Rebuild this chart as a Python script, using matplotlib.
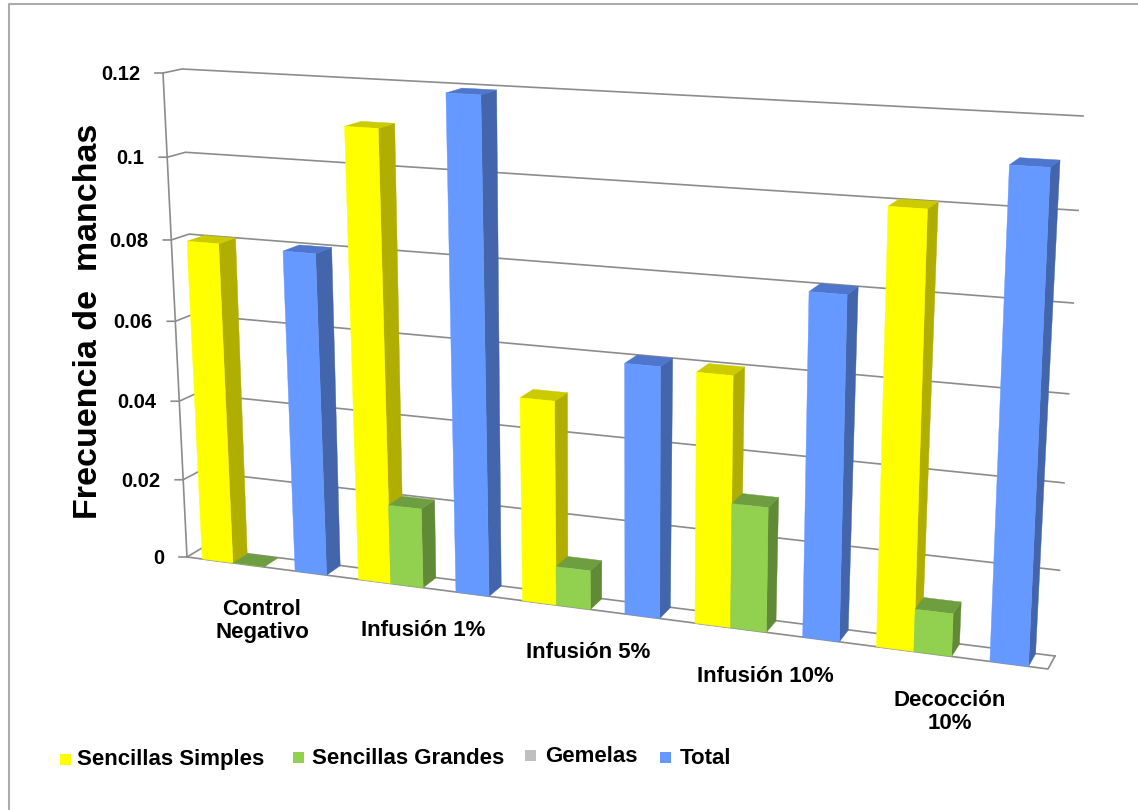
import numpy as np
import matplotlib
matplotlib.use('Agg')
import matplotlib.pyplot as plt
from matplotlib.patches import Polygon, Rectangle

plt.rcParams['font.family'] = ['Liberation Sans', 'DejaVu Sans']

categories = ['Control\nNegativo', 'Infusión 1%', 'Infusión 5%', 'Infusión 10%', 'Decocción\n10%']
simples = [0.080, 0.110, 0.0495, 0.0595, 0.100]
grandes = [0.000, 0.0197, 0.0095, 0.0297, 0.010]
gemelas = [None, None, None, None, None]
total = [0.0795, 0.119, 0.060, 0.080, 0.1105]
y_ticks = [0, 0.02, 0.04, 0.06, 0.08, 0.1, 0.12]
y_tick_labels = ['0', '0.02', '0.04', '0.06', '0.08', '0.1', '0.12']
series_names = ['Sencillas Simples', 'Sencillas Grandes', 'Gemelas', 'Total']

Y_MAX = 0.12
N_SLOTS = 5  # 4 series + gap

# corners in pixels: bottom left, bottom right, top right, top left
front_corners = [(187, 557), (1048, 669), (1073, 123), (163, 73)]
back_corners = [(202, 548), (1055, 656), (1083, 116), (182, 69)]

# front, side, top colours
colors = [('#FFFF00', '#B0AE00', '#CCCA00'),
          ('#92D050', '#618A36', '#6F9E40'),
          ('#BFBFBF', '#808080', '#999999'),
          ('#6699FF', '#4265AB', '#4D76CC')]
GRID = '#8C8C8C'


def homography(corners):
    src = [(0, 0), (1, 0), (1, 1), (0, 1)]
    a, b = [], []
    for (u, v), (x, y) in zip(src, corners):
        a.append([u, v, 1, 0, 0, 0, -u * x, -v * x])
        a.append([0, 0, 0, u, v, 1, -u * y, -v * y])
        b += [x, y]
    return np.append(np.linalg.solve(np.array(a, float), np.array(b, float)), 1).reshape(3, 3)


H_front = homography(front_corners)
H_back = homography(back_corners)


def apply_h(H, u, h):
    p = H @ np.array([u, h, 1.0])
    return p[:2] / p[2]


def project(u, value, depth):
    h = value / Y_MAX
    return (1 - depth) * apply_h(H_front, u, h) + depth * apply_h(H_back, u, h)


fig = plt.figure(figsize=(11.38, 8.10), dpi=100)
ax = fig.add_axes([0, 0, 1, 1])
ax.set_xlim(0, 1138)
ax.set_ylim(810, 0)
ax.axis('off')

# picture frame
ax.plot([9, 9, 1138], [810, 4, 4], color='#ABABAB', lw=1.5)

# walls and gridlines
for tick, label in zip(y_ticks, y_tick_labels):
    f = project(0, tick, 0)
    b = project(0, tick, 1)
    r = project(1, tick, 1)
    ax.plot([f[0] - 8, f[0], b[0], r[0]], [f[1], f[1], b[1], r[1]], color=GRID, lw=1.2, zorder=1)
    ax.text(f[0] - 23, f[1] + 1.5, label, ha='right', va='center', fontsize=14.5, fontweight='bold')

ft, fb = project(0, Y_MAX, 0), project(0, 0, 0)
ax.plot([ft[0], fb[0]], [ft[1], fb[1]], color=GRID, lw=1.2, zorder=1)
floor = [project(0, 0, 0), project(1, 0, 0), project(1, 0, 1)]
ax.plot([p[0] for p in floor], [p[1] for p in floor], color=GRID, lw=1.2, zorder=1)

# bars, left to right so each one covers the side of the previous
n_cat = len(categories)
all_series = [simples, grandes, gemelas, total]
z = 2
for c in range(n_cat):
    for s, values in enumerate(all_series):
        v = values[c]
        if v is None:
            continue
        u0 = (c * N_SLOTS + 0.5 + s) / (n_cat * N_SLOTS)
        u1 = (c * N_SLOTS + 1.5 + s) / (n_cat * N_SLOTS)
        d0, d1 = 0.0, 0.98
        col_front, col_side, col_top = colors[s]
        front = [project(u0, 0, d0), project(u1, 0, d0), project(u1, v, d0), project(u0, v, d0)]
        side = [project(u1, 0, d0), project(u1, 0, d1), project(u1, v, d1), project(u1, v, d0)]
        top = [project(u0, v, d0), project(u1, v, d0), project(u1, v, d1), project(u0, v, d1)]
        ax.add_patch(Polygon(side, closed=True, fc=col_side, ec=col_side, lw=0.3, zorder=z))
        ax.add_patch(Polygon(top, closed=True, fc=col_top, ec=col_top, lw=0.3, zorder=z))
        ax.add_patch(Polygon(front, closed=True, fc=col_front, ec=col_front, lw=0.3, zorder=z))
        z += 1

# category labels
label_pos = [(262, 621), (423, 630), (588, 652), (765, 676), (950, 712)]
for name, (x, y) in zip(categories, label_pos):
    ax.text(x, y, name, ha='center', va='center', fontsize=16, fontweight='bold', linespacing=1.15)

ax.text(89, 321, 'Frecuencia de  manchas', rotation=90, ha='center', va='center',
        fontsize=24.5, fontweight='bold')

# legend
legend_x = [(60, 77, 760), (293, 312, 758), (525, 545, 756), (660, 680, 758)]
for (sx, tx, y), name, col in zip(legend_x, series_names, colors):
    ax.add_patch(Rectangle((sx, y - 6), 11, 11, fc=col[0], ec='none'))
    ax.text(tx, y, name, ha='left', va='center', fontsize=16, fontweight='bold')

plt.savefig('out.png', dpi=100)
plt.close()
